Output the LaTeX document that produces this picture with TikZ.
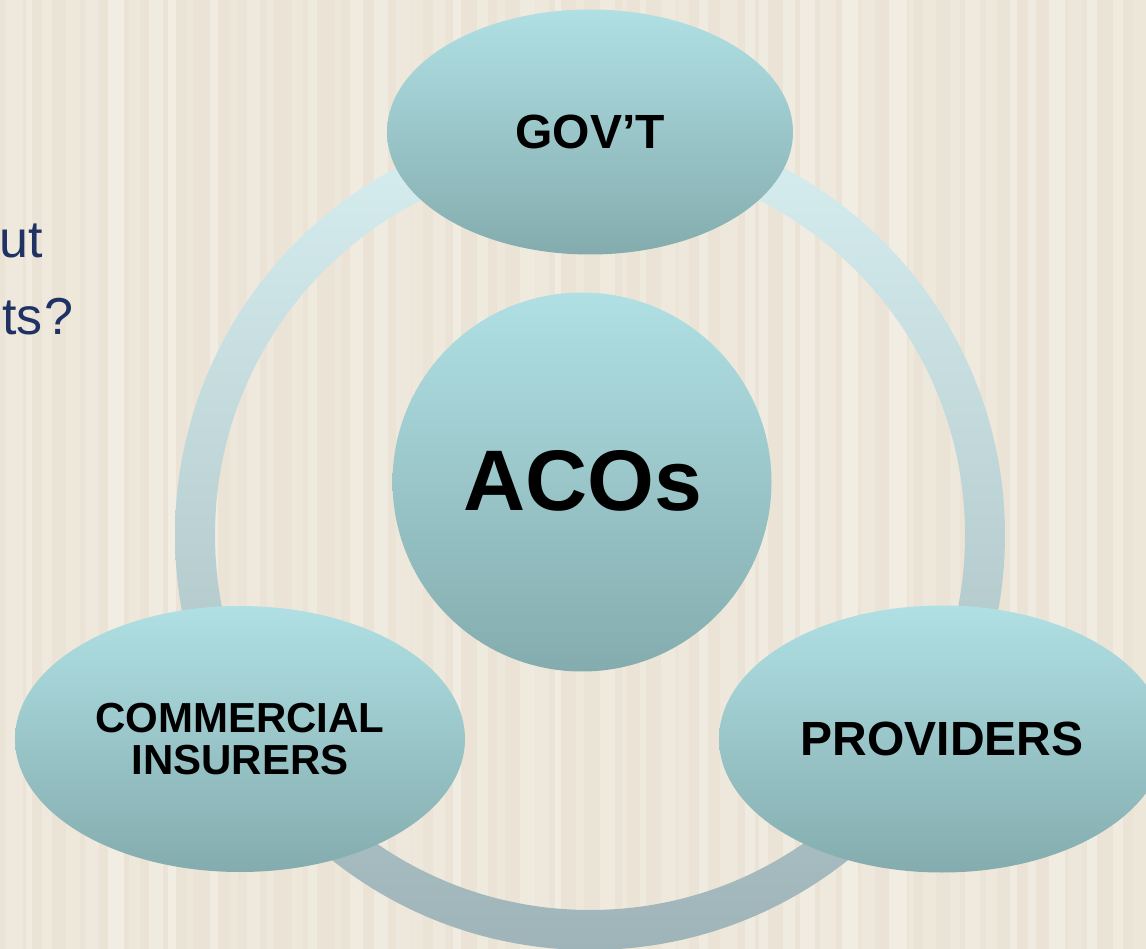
\documentclass[tikz,border=0pt]{standalone}
\usepackage{fontspec}
\setmainfont{Liberation Sans}
\usetikzlibrary{shapes.geometric}

\definecolor{paper}{HTML}{EBE4D6}
\definecolor{paperlight}{HTML}{F6F2EA}
\definecolor{navy}{HTML}{1F3263}
\definecolor{tealtop}{HTML}{B0E0E4}
\definecolor{tealbot}{HTML}{84ACAE}
\definecolor{ringtop}{HTML}{D8EFF1}
\definecolor{ringbot}{HTML}{9EB4B8}

\tikzset{
  bubble/.style={ellipse, inner sep=0pt, top color=tealtop, bottom color=tealbot,
    draw=none, text=black, font=\bfseries\fontsize{48}{44}\selectfont, align=center},
  hub/.style={circle, inner sep=0pt, top color=tealtop, bottom color=tealbot, draw=none},
  hubtext/.style={inner sep=0pt, text=black, font=\bfseries\fontsize{86}{86}\selectfont},
  sidetext/.style={text=navy, inner sep=0pt, font=\fontsize{52}{52}\selectfont}
}

\begin{document}
\begin{tikzpicture}[x=1pt, y=-1pt]
  \useasboundingbox (0,0) rectangle (1146,949);
  \clip (0,0) rectangle (1146,949);

  % striped paper background
  \fill[paper] (0,0) rectangle (1146,949);
  \pgfmathsetseed{11}
  \foreach \i in {0,...,56} {
    \pgfmathsetmacro\xx{\i*20.5+rnd*8}
    \pgfmathsetmacro\ww{5+rnd*13}
    \pgfmathsetmacro\op{0.2+rnd*0.5}
    \fill[paperlight, opacity=\op] (\xx,0) rectangle ++(\ww,949);
  }

  % partly hidden slide text on the left
  \node[sidetext, anchor=base east] (q1) at (43,258) {ut};
  \node[sidetext, anchor=base east] (q2) at (74,335) {ts\kern2pt?};

  % ring linking the three partners
  \coordinate (ringc) at (590,535);
  \shade[top color=ringtop, bottom color=ringbot, even odd rule]
    (ringc) circle[radius=415pt] (ringc) circle[radius=375pt];

  % partners
  \node[bubble, minimum width=406pt, minimum height=245pt] (gov) at (590,132) {GOV’T};
  \node[bubble, minimum width=450pt, minimum height=266pt, font=\bfseries\fontsize{42}{42}\selectfont]
    (ins) at (240,739) {COMMERCIAL\\INSURERS};
  \node[bubble, minimum width=446pt, minimum height=267pt] (prov) at (942,739) {PROVIDERS};

  % hub
  \node[hub, minimum size=379pt] (aco) at (582,482) {};
  \node[hubtext, anchor=base] (acotext) at (583,510) {ACOs};
\end{tikzpicture}
\end{document}
